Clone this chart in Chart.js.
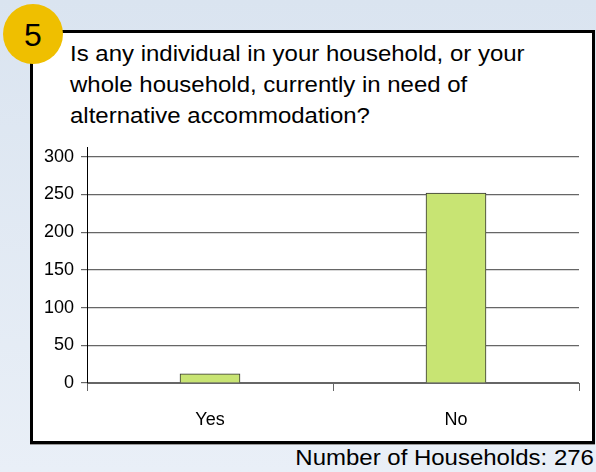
<!DOCTYPE html>
<html>
<head>
<meta charset="utf-8">
<script src="https://cdn.jsdelivr.net/npm/chart.js@4"></script>
<style>
  html, body { margin: 0; padding: 0; }
  body {
    width: 596px; height: 472px; position: relative; overflow: hidden;
    background: linear-gradient(#dae4f0, #e9eff7);
    font-family: "Liberation Sans", Arial, sans-serif;
  }
  #panel {
    position: absolute; left: 30px; top: 30px; width: 559px; height: 408px;
    background: #fff; border: 3px solid #000; box-shadow: 0 1px 0 #999;
  }
  #badge {
    position: absolute; left: 3px; top: 4px; width: 60px; height: 60px;
    border-radius: 50%; background: #efbf00; color: #000;
    font-size: 32px; line-height: 62px; text-align: center;
  }
  #question {
    position: absolute; left: 70px; top: 38px; font-size: 22px; line-height: 31px; color: #000;
    white-space: nowrap; transform: scaleX(1.09); transform-origin: left top;
  }
  #total {
    position: absolute; right: 2px; top: 445px; font-size: 22px; line-height: 25px; color: #000;
    white-space: nowrap; transform: scaleX(1.09); transform-origin: right top;
  }
  #chart { position: absolute; left: 0; top: 0; }
</style>
</head>
<body>
<div id="panel"></div>
<div id="badge">5</div>
<div id="question">Is any individual in your household, or your<br>whole household, currently in need of<br>alternative accommodation?</div>
<div id="total">Number of Households: 276</div>
<canvas id="chart" width="596" height="472"></canvas>
<script>
const categories = ['Yes', 'No'];
const households = [12, 252];
const yTicks = [0, 50, 100, 150, 200, 250, 300];

const ctx = document.getElementById('chart').getContext('2d');

new Chart(ctx, {
  type: 'bar',
  data: {
    labels: categories,
    datasets: [{
      data: households,
      backgroundColor: '#c8e473',
      borderColor: '#333',
      borderWidth: 1,
      barThickness: 60
    }]
  },
  options: {
    responsive: false,
    animation: false,
    layout: { padding: { top: 147, right: 17, bottom: 39, left: 0 } },
    plugins: { legend: { display: false }, tooltip: { enabled: false } },
    scales: {
      x: {
        afterFit: s => { s.height = 50; },
        grid: { drawOnChartArea: false, color: '#666', tickLength: 8 },
        border: { color: '#666' },
        ticks: { color: '#000', padding: 18, font: { family: 'Liberation Sans', size: 18 } }
      },
      y: {
        min: 0,
        max: 313,
        afterFit: s => { s.width = 87; },
        afterBuildTicks: s => { s.ticks = yTicks.map(v => ({ value: v })); },
        grid: { color: '#666', lineWidth: 1.2, tickLength: 6 },
        border: { color: '#000' },
        ticks: { color: '#000', padding: 7, font: { family: 'Liberation Sans', size: 18 } }
      }
    }
  }
});
</script>
</body>
</html>
